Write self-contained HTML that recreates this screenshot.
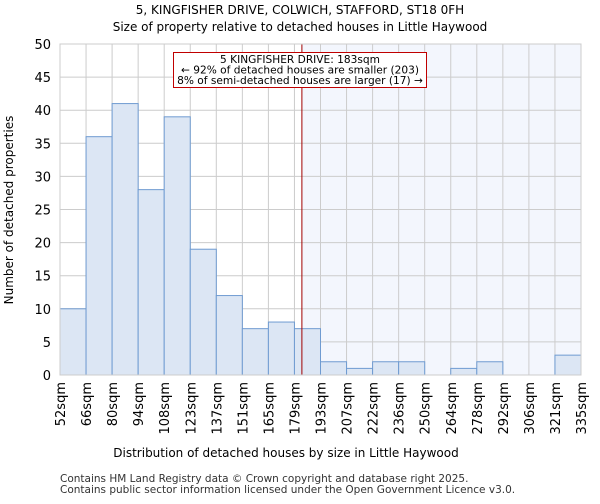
<!DOCTYPE html>
<html><head><meta charset="utf-8"><style>
body{margin:0;background:#fff;font-family:"DejaVu Sans","Liberation Sans",sans-serif;}
</style></head><body>
<svg id="chart" width="600" height="500" xmlns="http://www.w3.org/2000/svg" font-family="DejaVu Sans, Liberation Sans, sans-serif">
<text x="300" y="14" text-anchor="middle" font-size="12">5, KINGFISHER DRIVE, COLWICH, STAFFORD, ST18 0FH</text>
<text x="300" y="31" text-anchor="middle" font-size="12">Size of property relative to detached houses in Little Haywood</text>
<g id="plot"></g>
<text x="286" y="457" text-anchor="middle" font-size="12">Distribution of detached houses by size in Little Haywood</text>
<text transform="translate(13,210) rotate(-90)" text-anchor="middle" font-size="12">Number of detached properties</text>
<text x="60" y="482" font-size="10.5" fill="#333">Contains HM Land Registry data © Crown copyright and database right 2025.</text>
<text x="60" y="493" font-size="10.5" fill="#333">Contains public sector information licensed under the Open Government Licence v3.0.</text>
</svg>
<script>
const binLabels=["52sqm","66sqm","80sqm","94sqm","108sqm","123sqm","137sqm","151sqm","165sqm","179sqm","193sqm","207sqm","222sqm","236sqm","250sqm","264sqm","278sqm","292sqm","306sqm","321sqm","335sqm"];
const binEdges=[52,66,80,94,108,123,137,151,165,179,193,207,222,236,250,264,278,292,306,321,335];
const counts=[10,36,41,28,39,19,12,7,8,7,2,1,2,2,0,1,2,0,0,3];
const yTicks=[0,5,10,15,20,25,30,35,40,45,50];
const propertySize=183;
const NS="http://www.w3.org/2000/svg";
const L=60,R=581,T=44,B=375,yMax=50;
const n=counts.length,bw=(R-L)/n;
const xi=i=>L+i*bw;
function xv(v){for(let i=0;i<binEdges.length-1;i++){if(v<=binEdges[i+1])return xi(i)+(v-binEdges[i])/(binEdges[i+1]-binEdges[i])*bw;}return R;}
const y=v=>B-v/yMax*(B-T);
const g=document.getElementById('plot');
function mk(t,a){const e=document.createElementNS(NS,t);for(const k in a)e.setAttribute(k,a[k]);g.appendChild(e);return e;}
const px=xv(propertySize);
let e=mk('rect',{x:px,y:T,width:R-px,height:B-T,fill:'#f3f6fd'});


yTicks.forEach(t=>{let l=mk('line',{x1:L,x2:R,y1:y(t),y2:y(t),stroke:'#ccc','stroke-width':1});


let tx=mk('text',{x:L-9,y:y(t)+5,'text-anchor':'end','font-size':13});tx.textContent=t;

});
binLabels.forEach((s,i)=>{let l=mk('line',{x1:xi(i),x2:xi(i),y1:T,y2:B,stroke:'#ccc','stroke-width':1});


let tx=mk('text',{transform:`translate(${xi(i)+5},${B+7}) rotate(-90)`,'text-anchor':'end','font-size':13});tx.textContent=s;

});
counts.forEach((c,i)=>{if(c<=0)return;let r=mk('rect',{x:xi(i),y:y(c),width:bw,height:B-y(c),fill:'#dce6f4',stroke:'#6f9bd1','stroke-width':1});

});
e=mk('line',{x1:px,x2:px,y1:T,y2:B,stroke:'#a00000','stroke-width':1});


e=mk('rect',{x:173.5,y:52.5,width:253,height:35,fill:'#fff',stroke:'#c00000','stroke-width':1});


["5 KINGFISHER DRIVE: 183sqm","← 92% of detached houses are smaller (203)","8% of semi-detached houses are larger (17) →"].forEach((s,i)=>{let tx=mk('text',{x:300,y:63+i*10.5,'text-anchor':'middle','font-size':10.6});tx.textContent=s;

});
e=mk('rect',{x:L,y:T,width:R-L,height:B-T,fill:'none',stroke:'#ccc'});


</script>
</body></html>
